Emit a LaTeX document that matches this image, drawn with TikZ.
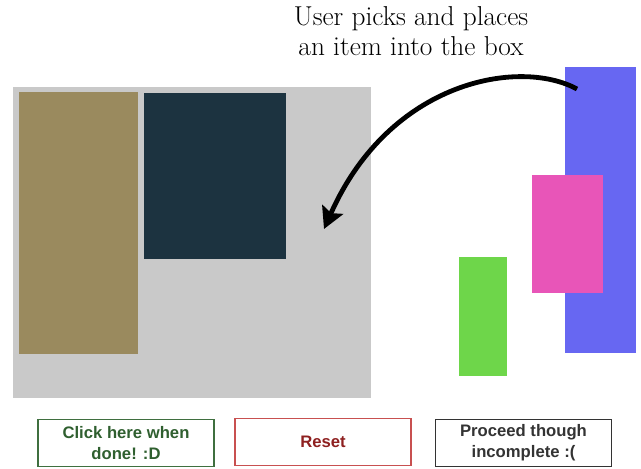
\documentclass[tikz,border=0pt]{standalone}
\usepackage{fontspec}
\newfontfamily\buttonfont{Liberation Sans}
\usetikzlibrary{arrows.meta}
\definecolor{boxgray}{HTML}{C9C9C9}
\definecolor{itemtan}{HTML}{9A8A5E}
\definecolor{itemnavy}{HTML}{1C3340}
\definecolor{itemblue}{HTML}{6767F2}
\definecolor{itempink}{HTML}{E855B8}
\definecolor{itemgreen}{HTML}{6ED64A}
\definecolor{donegreen}{HTML}{2F5F2F}
\definecolor{doneline}{HTML}{3F6F3F}
\definecolor{resetred}{HTML}{8E2020}
\definecolor{resetline}{HTML}{C85050}
\definecolor{proceedgray}{HTML}{333333}
\tikzset{button/.style={draw=#1, line width=1.2pt, minimum width=132pt, minimum height=35pt, inner sep=0pt, align=center, font=\buttonfont\bfseries\fontsize{12.5}{16}\selectfont}}

\begin{document}
\begin{tikzpicture}[x=0.75pt, y=-0.75pt]
        \useasboundingbox (0,0) rectangle (641,468);
        % the box and what is already in it
        \fill[boxgray] (13,87) rectangle (371,398);
        \fill[itemtan] (19,92) rectangle (138,354);
        \fill[itemnavy] (144,93) rectangle (286,259);
        % items still outside
        \fill[itemblue] (565,67) rectangle (636,353);
        \fill[itempink] (532,175) rectangle (603,293);
        \fill[itemgreen] (459,257) rectangle (507,376);

        \node[align=center, font=\fontsize{20.5}{22.5}\selectfont] (hint) at (411,31) {User picks and places\\an item into the box};
        \coordinate (pick) at (577,89);
        \coordinate (drop) at (324,229);
        \draw[line width=3.6pt, -{Stealth[length=16pt, width=17pt, inset=3pt]}] (pick) .. controls (520,58) and (390,80) .. (drop);

        \node[button=doneline, text=donegreen] (done) at (126,443) {Click here when\\done! :D};
        \node[button=resetline, text=resetred] (reset) at (323,442) {Reset};
        \node[button=proceedgray, text=proceedgray] (proceed) at (523.5,443) {Proceed though\\incomplete :(};
\end{tikzpicture}
\end{document}
